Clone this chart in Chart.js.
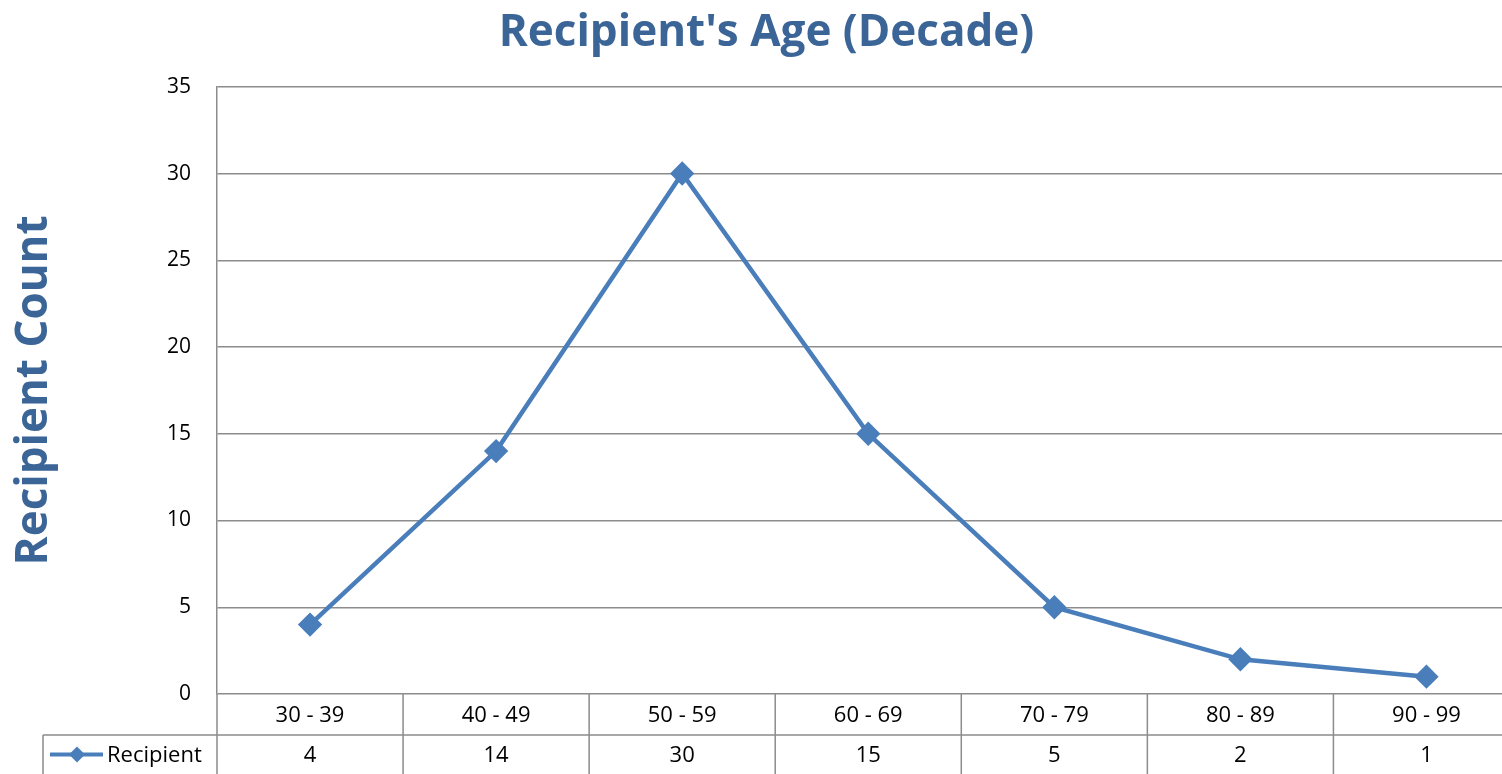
<!DOCTYPE html>
<html>
<head>
<meta charset="utf-8">
<script src="https://cdn.jsdelivr.net/npm/chart.js@4.4.1/dist/chart.umd.min.js"></script>
<style>
	html, body { margin: 0; padding: 0; background: #fff; overflow: hidden; }
	#wrap { width: 1533px; height: 774px; }
</style>
</head>
<body>
<div id="wrap"><canvas id="myChart" width="1533" height="774"></canvas></div>
<script>
/* Chart data */
const categories = ['30 - 39', '40 - 49', '50 - 59', '60 - 69', '70 - 79', '80 - 89', '90 - 99'];
const recipientCounts = [4, 14, 30, 15, 5, 2, 1];
const seriesName = 'Recipient';
const yMin = 0;
const yMax = 35;
const yStep = 5;

// Colors
const lineColor = '#4a7ebb';
const titleColor = '#3b6597';
const gridColor = '#8c8c8c';
const fontFamily = "'Open Sans', sans-serif";

// Excel-style data table under the plot
const dataTable = {
	id: 'dataTable',
	afterDraw(chart) {
		const { ctx, chartArea, scales: { x } } = chart;
		const top = chartArea.bottom;
		const mid = top + 41;
		const bottom = chart.height;
		const half = (x.getPixelForValue(1) - x.getPixelForValue(0)) / 2;
		const legendLeft = 43;

		ctx.save();
		ctx.strokeStyle = gridColor;
		ctx.lineWidth = 1.5;
		ctx.beginPath();
		ctx.moveTo(legendLeft, mid);
		ctx.lineTo(chartArea.right, mid);
		ctx.moveTo(legendLeft, mid);
		ctx.lineTo(legendLeft, bottom);
		for (let i = 0; i <= categories.length; i++) {
			const px = x.getPixelForValue(0) - half + i * half * 2;
			ctx.moveTo(px, top);
			ctx.lineTo(px, bottom);
		}
		ctx.stroke();

		ctx.fillStyle = '#000';
		ctx.font = '22px ' + fontFamily;
		ctx.textAlign = 'center';
		ctx.textBaseline = 'middle';
		categories.forEach((cat, i) => {
			const px = x.getPixelForValue(i);
			ctx.fillText(cat, px, (top + mid) / 2 + 1);
			ctx.fillText(String(recipientCounts[i]), px, (mid + bottom) / 2 + 1);
		});

		// legend key
		const ky = (mid + bottom) / 2;
		ctx.strokeStyle = lineColor;
		ctx.lineWidth = 4;
		ctx.beginPath();
		ctx.moveTo(50, ky);
		ctx.lineTo(103, ky);
		ctx.stroke();
		ctx.fillStyle = lineColor;
		ctx.beginPath();
		ctx.moveTo(77, ky - 8);
		ctx.lineTo(85, ky);
		ctx.lineTo(77, ky + 8);
		ctx.lineTo(69, ky);
		ctx.closePath();
		ctx.fill();
		ctx.fillStyle = '#000';
		ctx.textAlign = 'left';
		ctx.fillText(seriesName, 107, ky + 1);
		ctx.restore();
	},
};

const chartContainer = document.getElementById('myChart').getContext('2d');
const chartConfig = {
	type: 'line',
	data: {
		labels: categories,
		datasets: [
			{
				label: seriesName,
				data: recipientCounts,
				borderColor: lineColor,
				backgroundColor: lineColor,
				borderWidth: 4.5,
				pointStyle: 'rectRot',
				pointRadius: 9,
				pointHoverRadius: 9,
				tension: 0,
			},
		],
	},
	options: {
		responsive: false,
		animation: false,
		layout: {
			padding: { top: 0, left: 0, right: 0, bottom: 0 },
		},
		scales: {
			x: {
				offset: true,
				grid: { display: false },
				border: { display: false },
				ticks: { display: false },
				afterFit: (scale) => { scale.height = 80; },
			},
			y: {
				min: yMin,
				max: yMax,
				ticks: {
					stepSize: yStep,
					color: '#000',
					padding: 26,
					font: { family: fontFamily, size: 21 },
				},
				grid: { color: gridColor, lineWidth: 1.5, drawTicks: false },
				border: { display: true, color: gridColor, width: 1.5 },
				title: {
					display: true,
					text: 'Recipient Count',
					color: titleColor,
					padding: { top: 8, bottom: 0 },
					font: { family: fontFamily, size: 44, weight: 'bold' },
				},
				afterFit: (scale) => { scale.width = 217; },
			},
		},
		plugins: {
			legend: { display: false },
			tooltip: { enabled: false },
			title: {
				display: true,
				text: "Recipient's Age (Decade)",
				color: titleColor,
				padding: { top: 7, bottom: 27 },
				font: { family: fontFamily, size: 44, weight: 'bold', lineHeight: 1.2 },
			},
		},
	},
	plugins: [dataTable],
};

const myChart = new Chart(chartContainer, chartConfig);
</script>
</body>
</html>
